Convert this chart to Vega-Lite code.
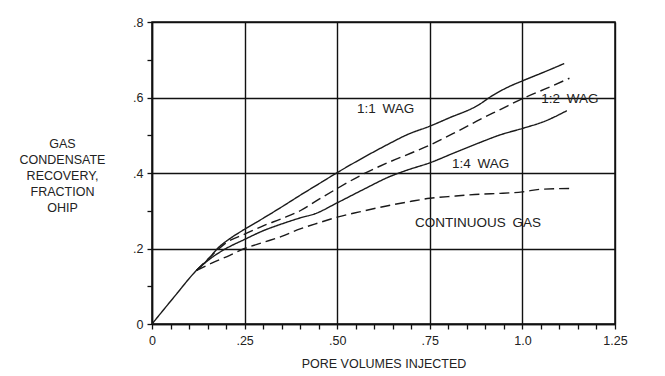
{
  "$schema": "https://vega.github.io/schema/vega-lite/v6.json",
  "width": 463,
  "height": 302,
  "autosize": {"type": "none"},
  "padding": {"left": 152, "top": 22, "right": 50, "bottom": 52},
  "background": "white",
  "config": {
    "view": {"stroke": "#111", "strokeWidth": 1.5},
    "font": "Liberation Sans",
    "axis": {
      "domainColor": "#111", "domainWidth": 1.5,
      "ticks": true, "tickColor": "#111", "tickWidth": 1.3, "tickSize": 5, "tickOpacity": 1,
      "gridColor": "#111", "gridWidth": 1.4,
      "labelFont": "Liberation Sans", "labelFontSize": 12.5, "labelColor": "#222",
      "titleFont": "Liberation Sans", "titleFontSize": 12.5, "titleFontWeight": "normal", "titleColor": "#222",
      "labelOverlap": false, "labelFlush": false
    }
  },
  "encoding": {
    "x": {
      "field": "x", "type": "quantitative",
      "scale": {"domain": [0, 1.25], "nice": false, "zero": false},
      "axis": {
        "title": "PORE VOLUMES INJECTED",
        "titlePadding": 11,
        "values": [0, 0.05, 0.1, 0.15, 0.2, 0.25, 0.3, 0.35, 0.4, 0.45, 0.5, 0.55, 0.6, 0.65, 0.7, 0.75, 0.8, 0.85, 0.9, 0.95, 1.0, 1.05, 1.1, 1.15, 1.2, 1.25],
        "labelExpr": "abs(datum.value*4-round(datum.value*4))>0.001 ? '' : datum.value==0 ? '0' : datum.value==1 ? '1.0' : datum.value>1 ? '1.25' : replace(format(datum.value,'.2f'),'0.','.')",
        "gridOpacity": {"condition": {"test": "abs(datum.value*4-round(datum.value*4))<0.001", "value": 1}, "value": 0},
        "labelPadding": 5
      }
    },
    "y": {
      "field": "y", "type": "quantitative",
      "scale": {"domain": [0, 0.8], "nice": false},
      "axis": {
        "title": ["GAS", "CONDENSATE", "RECOVERY,", "FRACTION", "OHIP"],
        "titleAngle": 0, "titleAlign": "center", "titleBaseline": "middle",
        "titleX": -90, "titleY": 121, "titleLineHeight": 16,
        "values": [0, 0.1, 0.2, 0.3, 0.4, 0.5, 0.6, 0.7, 0.8],
        "labelExpr": "abs(datum.value*5-round(datum.value*5))>0.001 ? '' : datum.value==0 ? '0' : replace(format(datum.value,'.1f'),'0.','.')",
        "gridOpacity": {"condition": {"test": "abs(datum.value*5-round(datum.value*5))<0.001", "value": 1}, "value": 0},
        "labelPadding": 4
      }
    }
  },
  "layer": [
    {
      "data": {"values": [
        {"series": "1:1", "x": 0, "y": 0}, {"series": "1:1", "x": 0.06, "y": 0.072}, {"series": "1:1", "x": 0.12, "y": 0.142},
        {"series": "1:1", "x": 0.15, "y": 0.17}, {"series": "1:1", "x": 0.18, "y": 0.203}, {"series": "1:1", "x": 0.21, "y": 0.226},
        {"series": "1:1", "x": 0.25, "y": 0.251}, {"series": "1:1", "x": 0.3, "y": 0.28}, {"series": "1:1", "x": 0.35, "y": 0.31},
        {"series": "1:1", "x": 0.4, "y": 0.341}, {"series": "1:1", "x": 0.45, "y": 0.371}, {"series": "1:1", "x": 0.5, "y": 0.401},
        {"series": "1:1", "x": 0.56, "y": 0.435}, {"series": "1:1", "x": 0.643, "y": 0.479}, {"series": "1:1", "x": 0.69, "y": 0.502},
        {"series": "1:1", "x": 0.75, "y": 0.524}, {"series": "1:1", "x": 0.8, "y": 0.545}, {"series": "1:1", "x": 0.886, "y": 0.583},
        {"series": "1:1", "x": 0.911, "y": 0.6}, {"series": "1:1", "x": 0.96, "y": 0.627}, {"series": "1:1", "x": 1.0, "y": 0.644},
        {"series": "1:1", "x": 1.06, "y": 0.668}, {"series": "1:1", "x": 1.113, "y": 0.69},

        {"series": "1:2", "x": 0.12, "y": 0.142}, {"series": "1:2", "x": 0.16, "y": 0.18}, {"series": "1:2", "x": 0.2, "y": 0.215},
        {"series": "1:2", "x": 0.25, "y": 0.238}, {"series": "1:2", "x": 0.3, "y": 0.26}, {"series": "1:2", "x": 0.35, "y": 0.279},
        {"series": "1:2", "x": 0.4, "y": 0.3}, {"series": "1:2", "x": 0.45, "y": 0.33}, {"series": "1:2", "x": 0.5, "y": 0.359},
        {"series": "1:2", "x": 0.57, "y": 0.397}, {"series": "1:2", "x": 0.643, "y": 0.43}, {"series": "1:2", "x": 0.7, "y": 0.453},
        {"series": "1:2", "x": 0.75, "y": 0.474}, {"series": "1:2", "x": 0.82, "y": 0.508}, {"series": "1:2", "x": 0.886, "y": 0.542},
        {"series": "1:2", "x": 0.94, "y": 0.568}, {"series": "1:2", "x": 1.0, "y": 0.597}, {"series": "1:2", "x": 1.06, "y": 0.622},
        {"series": "1:2", "x": 1.127, "y": 0.651},

        {"series": "1:4", "x": 0.12, "y": 0.142}, {"series": "1:4", "x": 0.16, "y": 0.175}, {"series": "1:4", "x": 0.2, "y": 0.2},
        {"series": "1:4", "x": 0.25, "y": 0.224}, {"series": "1:4", "x": 0.3, "y": 0.247}, {"series": "1:4", "x": 0.35, "y": 0.265},
        {"series": "1:4", "x": 0.4, "y": 0.281}, {"series": "1:4", "x": 0.44, "y": 0.292}, {"series": "1:4", "x": 0.5, "y": 0.321},
        {"series": "1:4", "x": 0.57, "y": 0.356}, {"series": "1:4", "x": 0.643, "y": 0.391}, {"series": "1:4", "x": 0.69, "y": 0.408},
        {"series": "1:4", "x": 0.75, "y": 0.427}, {"series": "1:4", "x": 0.82, "y": 0.455}, {"series": "1:4", "x": 0.886, "y": 0.481},
        {"series": "1:4", "x": 0.94, "y": 0.501}, {"series": "1:4", "x": 1.0, "y": 0.518}, {"series": "1:4", "x": 1.06, "y": 0.537},
        {"series": "1:4", "x": 1.12, "y": 0.565},

        {"series": "gas", "x": 0.12, "y": 0.142}, {"series": "gas", "x": 0.17, "y": 0.165}, {"series": "gas", "x": 0.21, "y": 0.182},
        {"series": "gas", "x": 0.25, "y": 0.2}, {"series": "gas", "x": 0.3, "y": 0.216}, {"series": "gas", "x": 0.35, "y": 0.232},
        {"series": "gas", "x": 0.4, "y": 0.252}, {"series": "gas", "x": 0.45, "y": 0.268}, {"series": "gas", "x": 0.5, "y": 0.283},
        {"series": "gas", "x": 0.56, "y": 0.297}, {"series": "gas", "x": 0.63, "y": 0.312}, {"series": "gas", "x": 0.7, "y": 0.325},
        {"series": "gas", "x": 0.75, "y": 0.333}, {"series": "gas", "x": 0.82, "y": 0.339}, {"series": "gas", "x": 0.886, "y": 0.344},
        {"series": "gas", "x": 0.94, "y": 0.346}, {"series": "gas", "x": 1.0, "y": 0.35}, {"series": "gas", "x": 1.05, "y": 0.357},
        {"series": "gas", "x": 1.137, "y": 0.359}
      ]},
      "mark": {"type": "line", "color": "#1a1a1a", "strokeWidth": 1.4, "interpolate": "monotone"},
      "encoding": {
        "detail": {"field": "series"},
        "strokeDash": {
          "field": "series", "type": "nominal",
          "scale": {"domain": ["1:1", "1:2", "1:4", "gas"], "range": [[1, 0], [10, 5], [1, 0], [10, 5]]},
          "legend": null
        }
      }
    },
    {
      "data": {"values": [
        {"label": "1:1\u2002WAG", "x": 0.631, "y": 0.57},
        {"label": "1:2\u2002WAG", "x": 1.128, "y": 0.596},
        {"label": "1:4\u2002WAG", "x": 0.887, "y": 0.423},
        {"label": "CONTINUOUS\u2002GAS", "x": 0.88, "y": 0.268}
      ]},
      "mark": {"type": "text", "font": "Liberation Sans", "fontSize": 13.5, "color": "#222", "align": "center", "baseline": "middle"},
      "encoding": {
        "text": {"field": "label"}
      }
    }
  ]
}
